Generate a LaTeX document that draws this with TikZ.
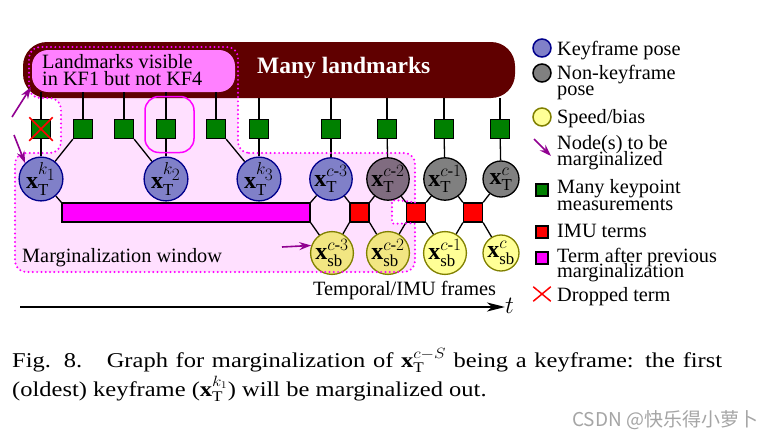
\documentclass[tikz,border=0pt]{standalone}
\usepackage{fontspec}
\setmainfont{Liberation Serif}
\newfontfamily\wmfont{Noto Sans CJK SC}
\usepackage{amsmath}
\usepackage{graphicx}
\usetikzlibrary{arrows.meta,calc,shapes.misc}
\definecolor{barred}{RGB}{96,0,0}
\definecolor{boxpink}{RGB}{255,128,255}
\definecolor{winfill}{RGB}{255,224,255}
\definecolor{magline}{RGB}{255,0,255}
\definecolor{kffill}{RGB}{128,128,200}
\definecolor{kfdraw}{RGB}{0,0,140}
\definecolor{nkffill}{RGB}{128,128,128}
\definecolor{mixfill}{RGB}{128,108,128}
\definecolor{sbfill}{RGB}{255,255,150}
\definecolor{sbmix}{RGB}{242,230,130}
\definecolor{sbdraw}{RGB}{128,128,0}
\definecolor{kpgreen}{RGB}{0,128,0}
\definecolor{imured}{RGB}{255,0,0}
\definecolor{prevmag}{RGB}{255,0,255}
\definecolor{arrpurple}{RGB}{145,0,145}
\definecolor{wmgray}{RGB}{165,165,165}
\begin{document}
\begin{tikzpicture}[x=1pt,y=-1pt,
  txt/.style={font=\fontsize{20.3}{20}\selectfont, inner sep=0pt, anchor=base west},
  kpsq/.style={draw=black, line width=1.3pt, fill=kpgreen, minimum size=19pt, inner sep=0pt},
  imusq/.style={kpsq, fill=imured},
  kfnode/.style={circle, draw=kfdraw, fill=kffill, line width=1.3pt, minimum size=36pt, inner sep=0pt, font=\fontsize{24}{24}\selectfont},
  nkfnode/.style={kfnode, draw=black, fill=nkffill},
  sbnode/.style={kfnode, draw=sbdraw, fill=sbfill},
  conn/.style={line width=1.3pt},
  parrow/.style={arrpurple, line width=1.6pt, -{Stealth[length=12pt,width=8pt,inset=4pt]}},
  windots/.style={draw=magline, line width=2.2pt, dash pattern=on 0pt off 4.3pt, line cap=round},
]
\useasboundingbox (0,0) rectangle (764,439);
\fill[white] (0,0) rectangle (764,439);

% marginalization window fill
\path[fill=winfill, rounded corners=11pt] (238,153) -- (415,153) -- (415,192)
  .. controls (415,202) and (392,199) .. (392,212)
  .. controls (392,225) and (415,222) .. (415,235)
  -- (415,272) -- (15,272) -- (15,153) -- (61,153) -- (61,98) -- (29,98) -- (29,47) -- (238,47) -- cycle;

% landmarks bar and box
\node[fill=barred, rounded corners=24pt, minimum width=492pt, minimum height=56pt, inner sep=0pt] (lmbar) at (269,70) {};
\node[fill=boxpink, rounded corners=16pt, minimum width=203pt, minimum height=42pt, inner sep=0pt] (lmbox) at (133.5,71) {};
\node[txt] (lmt1) at (42,68) {Landmarks visible};
\node[txt] (lmt2) at (42,85) {in KF1 but not KF4};
\node[txt, font=\fontsize{23.5}{24}\selectfont\bfseries, text=white] (mlt) at (257,73) {Many landmarks};

% keypoint squares
\node[kpsq] (sq1) at (41,129) {};
\node[kpsq] (sq2) at (83,129) {};
\node[kpsq] (sq3) at (124,129) {};
\node[kpsq] (sq4) at (166,129) {};
\node[kpsq] (sq5) at (216,129) {};
\node[kpsq] (sq6) at (259,129) {};
\node[kpsq] (sq7) at (331,129) {};
\node[kpsq] (sq8) at (387,129) {};
\node[kpsq] (sq9) at (444,129) {};
\node[kpsq] (sq10) at (500,129) {};

% poses
\node[kfnode] (kf1) at (41,179) {$\mathbf{x}_{\mathrm{T}}^{k_{\scriptstyle 1}}$};
\node[kfnode] (kf2) at (166,179) {$\mathbf{x}_{\mathrm{T}}^{k_{\scriptstyle 2}}$};
\node[kfnode] (kf3) at (259,179) {$\mathbf{x}_{\mathrm{T}}^{k_{\scriptstyle 3}}$};
\node[kfnode] (p3) at (331,179) {$\mathbf{x}_{\mathrm{T}}^{c\text{-}3}$};
\node[nkfnode, fill=mixfill] (p2) at (388,179) {$\mathbf{x}_{\mathrm{T}}^{c\text{-}2}$};
\node[nkfnode] (p1) at (445,179) {$\mathbf{x}_{\mathrm{T}}^{c\text{-}1}$};
\node[nkfnode] (p0) at (501,179) {$\mathbf{x}_{\mathrm{T}}^{c}$};

% speed/bias
\node[sbnode, fill=sbmix] (sb3) at (332,253) {$\mathbf{x}_{\mathrm{sb}}^{c\text{-}3}$};
\node[sbnode, fill=sbmix] (sb2) at (388,253) {$\mathbf{x}_{\mathrm{sb}}^{c\text{-}2}$};
\node[sbnode] (sb1) at (445,253) {$\mathbf{x}_{\mathrm{sb}}^{c\text{-}1}$};
\node[sbnode] (sb0) at (501,253) {$\mathbf{x}_{\mathrm{sb}}^{c}$};

% previous marginalization term and IMU terms
\node[draw=black, line width=1.3pt, fill=prevmag, minimum width=248pt, minimum height=19pt, inner sep=0pt] (prevterm) at (186,212.5) {};
\node[imusq] (imu1) at (359.5,212.5) {};
\node[imusq] (imu2) at (416,212.5) {};
\node[imusq] (imu3) at (473,212.5) {};

% connectors
\draw[conn] (sq1) -- (sq1 |- lmbox.south);
\draw[conn] (sq2) -- (sq2 |- lmbox.south);
\draw[conn] (sq3) -- (sq3 |- lmbox.south);
\draw[conn] (sq4) -- (sq4 |- lmbox.south);
\draw[conn] (sq5) -- (sq5 |- lmbox.south);
\draw[conn] (sq6) -- (sq6 |- lmbar.south);
\draw[conn] (sq7) -- (sq7 |- lmbar.south);
\draw[conn] (sq8) -- (sq8 |- lmbar.south);
\draw[conn] (sq9) -- (sq9 |- lmbar.south);
\draw[conn] (sq10) -- (sq10 |- lmbar.south);

\draw[conn] (sq1) -- (kf1);
\draw[conn] (sq2.south west) -- (kf1);
\draw[conn] (sq3.south east) -- (kf2);
\draw[conn] (sq4) -- (kf2);
\draw[conn] (sq5.south east) -- (kf3);
\draw[conn] (sq6) -- (kf3);
\draw[conn] (sq7) -- (p3);
\draw[conn] (sq8) -- (p2);
\draw[conn] (sq9) -- (p1);
\draw[conn] (sq10) -- (p0);

\draw[conn] (kf1) -- (prevterm.north west);
\draw[conn] (kf2) -- (kf2 |- prevterm.north);
\draw[conn] (kf3) -- (kf3 |- prevterm.north);
\draw[conn] (p3) -- (prevterm.north east);
\draw[conn] (sb3) -- (prevterm.south east);

\draw[conn] (p3) -- (imu1.north west);
\draw[conn] (imu1.north east) -- (p2);
\draw[conn] (sb3) -- (imu1.south west);
\draw[conn] (imu1.south east) -- (sb2);
\draw[conn] (p2) -- (imu2.north west);
\draw[conn] (imu2.north east) -- (p1);
\draw[conn] (sb2) -- (imu2.south west);
\draw[conn] (imu2.south east) -- (sb1);
\draw[conn] (p1) -- (imu3.north west);
\draw[conn] (imu3.north east) -- (p0);
\draw[conn] (sb1) -- (imu3.south west);
\draw[conn] (imu3.south east) -- (sb0);

% dotted window outline
\path[windots, rounded corners=11pt] (238,153) -- (415,153) -- (415,192)
  .. controls (415,202) and (392,199) .. (392,212)
  .. controls (392,225) and (415,222) .. (415,235)
  -- (415,272) -- (15,272) -- (15,153) -- (61,153) -- (61,98) -- (29,98) -- (29,47) -- (238,47) -- cycle;

% highlight around square 4
\node[draw=magline, line width=1.5pt, rounded corners=14pt, minimum width=49pt, minimum height=56pt, inner sep=0pt] (hl) at (169.5,124.5) {};

% dropped term
\node[cross out, draw=imured, line width=1.5pt, minimum size=22pt, inner sep=0pt] (drop) at (sq1) {};

% purple arrows
\coordinate (a1s) at (12,117);
\coordinate (a1e) at (31,87);
\draw[parrow] (a1s) -- (a1e);
\coordinate (a2s) at (14,135);
\draw[parrow] (a2s) -- (kf1.north west);
\coordinate (a3s) at (282,247);
\draw[parrow] (a3s) -- (sb3.160);

% labels
\node[txt] (mwt) at (22,262) {Marginalization window};
\node[txt] (tif) at (313,295) {Temporal/IMU frames};
\node[txt, font=\fontsize{28}{28}\selectfont] (tl) at (505,313) {$t$};
\coordinate (ax0) at (20,307);
\draw[line width=2pt, -{Stealth[length=18pt,width=9pt,inset=5pt]}] (ax0) -- (ax0 -| tl.west);

% legend
\node[kfnode, minimum size=18pt, line width=1.5pt] (lg1) at (542,48) {};
\node[nkfnode, minimum size=18pt, line width=1.5pt] (lg2) at (542,73) {};
\node[sbnode, minimum size=18pt, line width=1.5pt] (lg3) at (542,117) {};
\coordinate (lg4s) at (534,139);
\coordinate (lg4e) at (551,156);
\draw[parrow] (lg4s) -- (lg4e);
\node[kpsq, minimum size=12pt, line width=1.2pt] (lg5) at (542,190) {};
\node[imusq, minimum size=12pt, line width=1.2pt] (lg6) at (542,232) {};
\node[kpsq, fill=prevmag, minimum size=12pt, line width=1.2pt] (lg7) at (542,258) {};
\node[cross out, draw=imured, line width=1.5pt, minimum width=16pt, minimum height=13pt, inner sep=0pt] (lg8) at (542,294) {};

\node[txt] (lt1) at (557,55) {Keyframe pose};
\node[txt] (lt2) at (557,79) {Non-keyframe};
\node[txt] (lt2b) at (557,95) {pose};
\node[txt] (lt3) at (557,123) {Speed/bias};
\node[txt] (lt4) at (557,149) {Node(s) to be};
\node[txt] (lt4b) at (557,165) {marginalized};
\node[txt] (lt5) at (557,193) {Many keypoint};
\node[txt] (lt5b) at (557,210) {measurements};
\node[txt] (lt6) at (557,237) {IMU terms};
\node[txt] (lt7) at (557,262) {Term after previous};
\node[txt] (lt7b) at (557,277) {marginalization};
\node[txt] (lt8) at (557,301) {Dropped term};

% caption
\node[anchor=base west, inner sep=0pt, font=\fontsize{24.5}{26}\selectfont] (cap1) at (12,367)
  {\scalebox{1}[0.86]{\makebox[710pt][s]{Fig. 8.\quad Graph for marginalization of $\mathbf{x}_{\mathrm{T}}^{c-S}$ being a keyframe: the first}}};
\node[anchor=base west, inner sep=0pt, font=\fontsize{24.5}{26}\selectfont] (cap2) at (12,396)
  {\scalebox{1}[0.86]{(oldest) keyframe ($\mathbf{x}_{\mathrm{T}}^{k_1}$) will be marginalized out.}};

% watermark
\node[anchor=base west, inner sep=0pt, font=\wmfont\fontsize{19}{19}\selectfont, text=wmgray] (wm) at (572,426) {CSDN @快乐得小萝卜};
\end{tikzpicture}
\end{document}
